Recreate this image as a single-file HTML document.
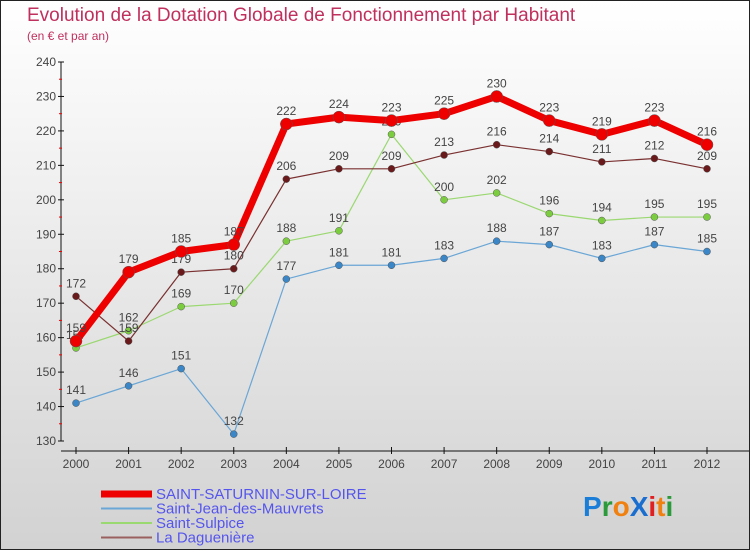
<!DOCTYPE html>
<html><head><meta charset="utf-8"><style>
body{margin:0}
#c{width:750px;height:550px;position:relative;overflow:hidden;box-sizing:border-box;border:1px solid #222;background:linear-gradient(#ffffff,#d2d2d2);font-family:"Liberation Sans",sans-serif}
.t{position:absolute;left:26px;top:4px;font-size:19px;color:#c0305e;white-space:nowrap}
.s{position:absolute;left:26px;top:28px;font-size:12px;color:#c0305e}
</style></head><body>
<div id="c">
<div class="t">Evolution de la Dotation Globale de Fonctionnement par Habitant</div>
<div class="s">(en € et par an)</div>
<svg id="sv" width="750" height="550" style="position:absolute;left:0;top:0"></svg>
</div>
<script>
const years=[2000,2001,2002,2003,2004,2005,2006,2007,2008,2009,2010,2011,2012];
const yTicks=[130,140,150,160,170,180,190,200,210,220,230,240];
const saturnin=[159,179,185,187,222,224,223,225,230,223,219,223,216];
const saintJean=[141,146,151,132,177,181,181,183,188,187,183,187,185];
const sulpice=[157,162,169,170,188,191,219,200,202,196,194,195,195];
const dagueniere=[172,159,179,180,206,209,209,213,216,214,211,212,209];
const NS="http://www.w3.org/2000/svg";
const sv=document.getElementById('sv');
function X(i){return 75+i*(706-75)/12;}
function Y(v){return 440-(v-130)*(440-61)/110;}
function mk(t,a,p){const e=document.createElementNS(NS,t);for(const k in a)e.setAttribute(k,a[k]);(p||sv).appendChild(e);return e;}
// axes
let ya=mk('line',{x1:60,y1:61,x2:60,y2:440,stroke:'#111','stroke-width':1});


let xa=mk('line',{x1:60,y1:450,x2:750,y2:450,stroke:'#111','stroke-width':1});


yTicks.forEach(v=>{
  mk('line',{x1:57,y1:Y(v),x2:63,y2:Y(v),stroke:'#111'});
  if(v<240)mk('line',{x1:58,y1:Y(v+5),x2:61,y2:Y(v+5),stroke:'#e00'});
  const t=mk('text',{x:55,y:Y(v)+4,'text-anchor':'end','font-size':12,fill:'#444'});
  t.textContent=v;
  
  
});
years.forEach((y,i)=>{
  mk('line',{x1:X(i),y1:446,x2:X(i),y2:453,stroke:'#111'});
  const t=mk('text',{x:X(i),y:467,'text-anchor':'middle','font-size':12,fill:'#444'});
  t.textContent=y;
  
  
});
function series(data,color,dot,w,r,name){
  const g=mk('g',{});
  
  
  mk('polyline',{points:data.map((v,i)=>X(i)+','+Y(v)).join(' '),fill:'none',stroke:color,'stroke-width':w,'stroke-linejoin':'round'},g);
  data.forEach((v,i)=>{
    const c=mk('circle',{cx:X(i),cy:Y(v),r:r,fill:dot,stroke:'#555','stroke-width':0.5},g);
    
    
    const t=mk('text',{x:X(i),y:Y(v)-9,'text-anchor':'middle','font-size':12,fill:'#444'},g);
    t.textContent=v;
  });
}
series(saintJean,'#6aa6d6','#3a86c6',1.2,3.5,'saint-jean-series');
series(sulpice,'#9ad870','#7ccc40',1.2,3.5,'saint-sulpice-series');
series(dagueniere,'#7a3030','#6a1a1a',1.2,3.5,'la-dagueniere-series');
series(saturnin,'#ee0000','#ee0000',7,6,'saint-saturnin-series');
// legend
const leg=[['SAINT-SATURNIN-SUR-LOIRE','#ee0000',7],['Saint-Jean-des-Mauvrets','#6aa6d6',2],['Saint-Sulpice','#9ad870',2],['La Daguenière','#9a6060',2]];
leg.forEach((l,i)=>{
  const y=493+i*14.5;
  mk('line',{x1:100,y1:y,x2:151,y2:y,stroke:l[1],'stroke-width':l[2]});
  const t=mk('text',{x:155,y:y+5,'font-size':15,fill:'#5555ee'});
  t.textContent=l[0];
  
  
});
const lg=mk('text',{x:582,y:515,'font-size':28,'font-weight':'bold'});


[['P','#1a7ed8'],['r','#2a9a3a'],['o','#f08010'],['X','#1a6ed0'],['i','#e02020'],['t','#f08010'],['i','#2a9a3a']].forEach(p=>{const s=mk('tspan',{fill:p[1]},lg);s.textContent=p[0];});
</script>
</body></html>
